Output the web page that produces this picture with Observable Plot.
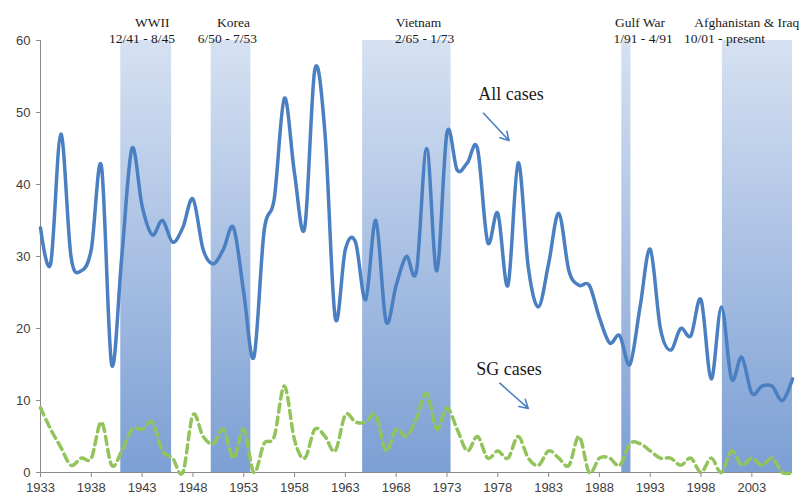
<!DOCTYPE html>
<html><head><meta charset="utf-8">
<script src="https://cdn.jsdelivr.net/npm/d3@7"></script>
<script src="https://cdn.jsdelivr.net/npm/@observablehq/plot@0.6"></script>
<style>body{margin:0;background:#fff}</style>
</head><body><div id="chart"></div>
<script>
const years = [1933,1934,1935,1936,1937,1938,1939,1940,1941,1942,
  1943,1944,1945,1946,1947,1948,1949,1950,1951,1952,
  1953,1954,1955,1956,1957,1958,1959,1960,1961,1962,
  1963,1964,1965,1966,1967,1968,1969,1970,1971,1972,
  1973,1974,1975,1976,1977,1978,1979,1980,1981,1982,
  1983,1984,1985,1986,1987,1988,1989,1990,1991,1992,
  1993,1994,1995,1996,1997,1998,1999,2000,2001,2002,
  2003,2004,2005,2006,2007];
const allCases = [34,29,47,30,28,31,42.5,15,30,45,
  37,33,35,32,34,38,31,29,31,34,
  25,16,33.5,38,52,41.5,34,56,47,21.5,
  31,32,24,35,21,26,30,28,45,28,
  47.2,42,43,45,32,36,26,43,28.5,23,
  29,36,28,26,26,21.5,18,19,15,23,
  31,20,17,20,19,24,13,23,13,16,
  11,12,12,10,13];
const sgCases = [9,6,3.5,1,2,2,7,1,3,6,
  6,7,3,2,0,8,5,4,6,2,
  6,0,4,5,12,4.5,2,6,5,3,
  8,7,7,8,3,6,5,7.5,11,6,
  9,6,3,5,2,3,2,5,2,1,
  3,2,1,5,0,2,2,1,4,4,
  3,2,2,1,2,0,2,0,3,1,
  2,1,2,0,0];
const xTicks = [1933,1938,1943,1948,1953,1958,1963,1968,1973,1978,1983,1988,1993,1998,2003];
const yTicks = [0,10,20,30,40,50,60];

// war periods (band edges as drawn in the reference, in years)
const warNames = ["WWII","Korea","Vietnam","Gulf War","Afghanistan & Iraq"];
const warDates = ["12/41 - 8/45","6/50 - 7/53","2/65 - 1/73","1/91 - 4/91","10/01 - present"];
const warStart = [1940.9,1949.8,1964.7,1990.2,2000.1];
const warEnd   = [1945.9,1953.7,1973.4,1991.1,2007.0];
// label placement (layout)
const warNameX = [1944.0,1952.0,1970.2,1992.0,2002.5];
const warDateX = [1943.0,1951.4,1970.8,1992.3,2000.3];

const seriesLabels = ["All cases","SG cases"];
const labelPos = [[1979.3,52.6],[1979.1,14.4]];
const arrowPos = [[1976.6,49.9,1979.1,46.1],[1978.2,12.4,1981.0,8.9]];

const rows = years.map((y,i)=>({year:y, all:allCases[i], sg:sgCases[i]}));
const wars = warNames.map((n,i)=>({name:n, dates:warDates[i], x1:warStart[i], x2:warEnd[i], nx:warNameX[i], dx:warDateX[i]}));
const labels = seriesLabels.map((t,i)=>({t, x:labelPos[i][0], y:labelPos[i][1]}));
const arrows = arrowPos.map(a=>({x1:a[0],y1:a[1],x2:a[2],y2:a[3]}));

function gradientDefs() {
  const defs = d3.create("svg:defs");
  const g = defs.append("linearGradient").attr("id","warGrad")
    .attr("x1",0).attr("y1",0).attr("x2",0).attr("y2",1);
  g.append("stop").attr("offset","0%").attr("stop-color","#d6e1f2");
  g.append("stop").attr("offset","100%").attr("stop-color","#7c9fd4");
  return defs.node();
}

const blue = "#4a7fc1";
const green = "#93c45b";
const serif = "'Liberation Serif', 'Times New Roman', serif";

const chart = Plot.plot({
  width: 811, height: 498,
  marginLeft: 40, marginRight: 19, marginTop: 40, marginBottom: 26,
  style: {fontFamily: "'Liberation Sans', Arial, sans-serif", fontSize: "13px", color: "#404040", background: "#fff"},
  x: {domain: [1933, 2007], label: null},
  y: {domain: [0, 60], label: null},
  marks: [
    gradientDefs,
    Plot.rect(wars, {x1: "x1", x2: "x2", y1: 0, y2: 60, fill: "url(#warGrad)"}),
    Plot.ruleX([1933], {stroke: "#8c8c8c", strokeWidth: 1}),
    Plot.ruleY([0], {stroke: "#8c8c8c", strokeWidth: 1}),
    Plot.line(rows, {x: "year", y: "all", stroke: blue, strokeWidth: 3.5, curve: "cardinal", tension: 0}),
    Plot.line(rows, {x: "year", y: "sg", stroke: green, strokeWidth: 3.5, strokeDasharray: "8,5", curve: "cardinal", tension: 0}),
    Plot.arrow(arrows, {x1: "x1", y1: "y1", x2: "x2", y2: "y2", stroke: blue, strokeWidth: 1.6, headLength: 9}),
    Plot.text(labels, {x: "x", y: "y", text: "t", fontFamily: serif, fontSize: 18, fill: "#1a1a1a"}),
    Plot.text(wars, {x: "nx", frameAnchor: "top", dy: -23, text: "name", fontFamily: serif, fontSize: 13.5, fill: "#1a1a1a"}),
    Plot.text(wars, {x: "dx", frameAnchor: "top", dy: -7, text: "dates", fontFamily: serif, fontSize: 13.5, fill: "#1a1a1a"}),
    Plot.axisY({ticks: yTicks, tickSize: 4, tickPadding: 6, stroke: "#8c8c8c", fill: "#404040", label: null}),
    Plot.axisX({ticks: xTicks, tickFormat: "d", tickSize: 5, tickPadding: 5, stroke: "#8c8c8c", fill: "#404040", label: null})
  ]
});
document.getElementById("chart").appendChild(chart);
</script>
</body></html>
